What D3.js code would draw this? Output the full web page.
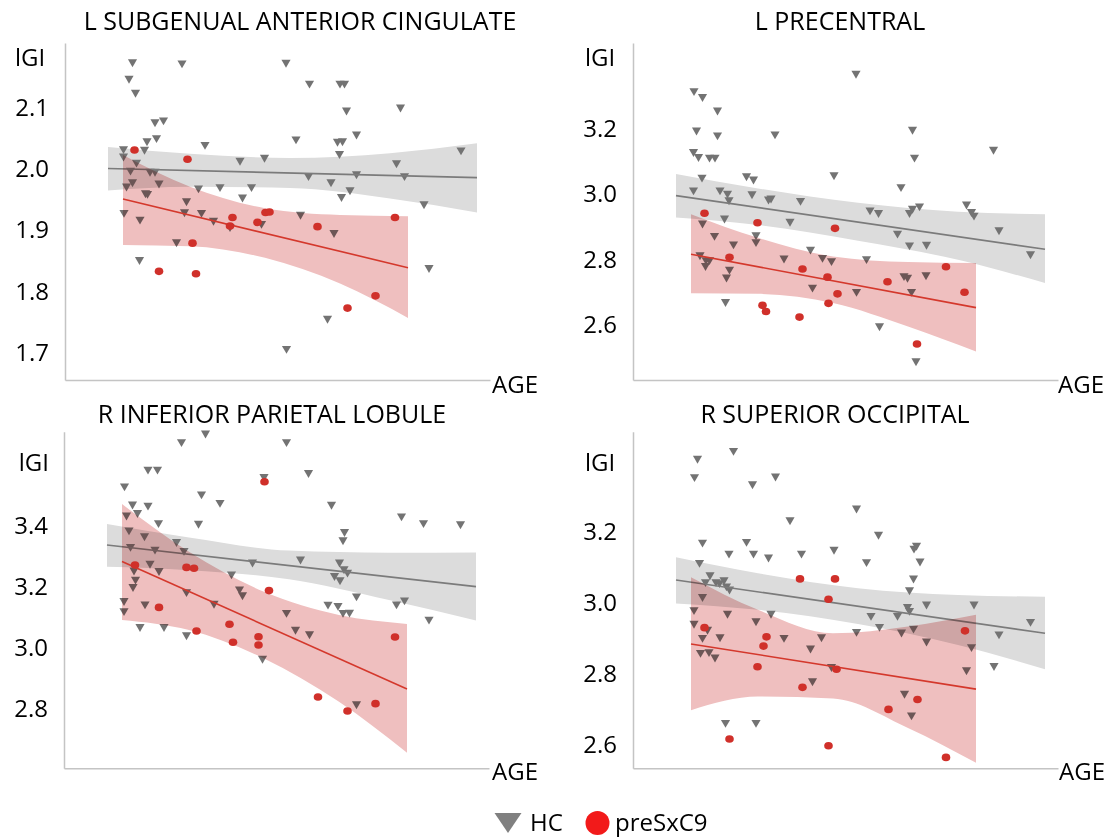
<!DOCTYPE html>
<html>
<head>
<meta charset="utf-8">
<script src="https://cdn.jsdelivr.net/npm/d3@7"></script>
<style>
body { margin: 0; background: #fff; }
text { font-family: "Open Sans", sans-serif; fill: #000; }
</style>
</head>
<body>
<svg id="chart" width="1110" height="837"></svg>
<script>
var titles = ["L SUBGENUAL ANTERIOR CINGULATE", "L PRECENTRAL", "R INFERIOR PARIETAL LOBULE", "R SUPERIOR OCCIPITAL"];
var groups = ["HC", "preSxC9"];

// [age, lGI]
var hc1 = [[23.5,2.175],[33.4,2.173],[54.2,2.174],[22.8,2.148],[24.1,2.125],[28.0,2.077],[29.7,2.080],[28.3,2.051],[26.4,2.046],[25.9,2.032],[38.0,2.040],[56.2,2.049],[21.7,2.033],[21.7,2.021],[24.3,2.011],[23.1,1.998],[27.0,1.996],[28.0,1.996],[23.5,1.979],[22.3,1.972],[28.8,1.977],[45.0,2.014],[49.9,2.019],[36.7,1.969],[41.0,1.971],[47.3,1.971],[26.1,1.961],[26.5,1.960],[34.3,1.948],[45.5,1.954],[21.8,1.929],[25.0,1.918],[33.9,1.930],[37.3,1.929],[39.7,1.916],[43.0,1.906],[49.3,1.911],[32.3,1.881],[24.9,1.852],[54.3,1.707],[58.9,2.140],[65.0,2.140],[65.9,2.140],[66.3,2.096],[77.1,2.101],[64.5,2.045],[65.5,2.046],[68.3,2.057],[64.9,2.025],[89.2,2.031],[76.3,2.010],[58.7,1.989],[68.3,1.992],[77.9,1.989],[63.2,1.979],[67.0,1.966],[65.3,1.955],[81.8,1.943],[57.1,1.926],[63.8,1.896],[82.8,1.839],[62.5,1.756]];
var pre1 = [[23.9,2.031],[34.5,2.016],[43.5,1.921],[43.0,1.907],[48.5,1.913],[50.1,1.929],[50.9,1.930],[35.5,1.879],[28.8,1.833],[36.2,1.829],[60.5,1.906],[76.0,1.921],[72.1,1.793],[66.5,1.773]];

var hc2 = [[22.2,3.316],[23.9,3.298],[26.9,3.257],[22.7,3.196],[26.9,3.181],[38.4,3.184],[22.1,3.130],[23.1,3.115],[25.3,3.113],[26.4,3.113],[23.8,3.052],[32.7,3.056],[34.1,3.046],[50.2,3.059],[22.1,3.013],[27.4,3.013],[28.9,3.003],[29.2,2.983],[33.8,3.001],[37.1,2.985],[37.6,2.988],[43.5,2.981],[23.9,2.912],[28.3,2.927],[41.4,2.917],[26.3,2.874],[30.1,2.848],[34.6,2.876],[34.6,2.855],[23.4,2.815],[24.6,2.800],[25.3,2.800],[24.5,2.782],[40.2,2.805],[45.5,2.832],[47.9,2.807],[49.7,2.797],[29.3,2.771],[28.7,2.747],[45.9,2.716],[28.5,2.672],[54.6,3.369],[65.9,3.198],[66.3,3.113],[82.1,3.137],[63.6,3.023],[57.4,2.952],[59.1,2.944],[65.3,2.944],[65.9,2.957],[67.3,2.964],[76.7,2.970],[77.7,2.947],[78.2,2.936],[83.2,2.891],[62.9,2.881],[65.3,2.845],[68.7,2.847],[89.5,2.818],[56.7,2.803],[64.2,2.751],[64.9,2.746],[68.6,2.754],[54.7,2.703],[65.7,2.703],[59.3,2.598],[66.6,2.491]];
var pre2 = [[24.3,2.942],[34.9,2.913],[50.4,2.896],[29.3,2.808],[43.9,2.772],[48.9,2.747],[50.9,2.696],[35.9,2.661],[36.6,2.642],[43.3,2.625],[49.1,2.667],[60.9,2.733],[72.6,2.779],[76.3,2.701],[66.8,2.543]];

var hc3 = [[38.3,3.703],[33.5,3.675],[54.5,3.675],[26.8,3.585],[28.7,3.585],[22.1,3.530],[37.5,3.504],[41.2,3.476],[50.0,3.561],[23.7,3.471],[26.8,3.467],[24.7,3.443],[22.5,3.435],[28.9,3.410],[36.9,3.408],[23.0,3.386],[26.1,3.367],[32.5,3.348],[23.3,3.332],[28.2,3.323],[34.0,3.319],[47.7,3.281],[27.2,3.277],[24.0,3.255],[29.0,3.253],[43.5,3.242],[24.3,3.225],[23.8,3.201],[45.1,3.193],[45.7,3.174],[34.5,3.184],[22.0,3.155],[22.0,3.122],[26.2,3.144],[40.0,3.146],[54.5,3.116],[25.2,3.070],[30.0,3.070],[34.5,3.043],[56.3,3.061],[49.7,2.966],[58.9,3.574],[63.5,3.470],[77.5,3.432],[81.9,3.410],[89.3,3.406],[66.1,3.381],[65.8,3.354],[57.3,3.291],[65.1,3.281],[66.0,3.259],[64.1,3.237],[65.2,3.223],[66.7,3.248],[68.5,3.170],[62.8,3.143],[64.8,3.139],[65.8,3.116],[67.1,3.117],[76.5,3.144],[78.1,3.157],[83.0,3.094],[59.1,3.046],[68.5,2.817]];
var pre3 = [[50.1,3.544],[24.2,3.272],[34.5,3.264],[36.0,3.261],[29.0,3.133],[51.0,3.188],[36.5,3.056],[43.1,3.078],[43.8,3.019],[48.9,3.037],[48.9,3.010],[76.2,3.036],[60.8,2.840],[66.7,2.794],[72.3,2.818]];

var hc4 = [[22.9,3.406],[22.3,3.354],[30.1,3.428],[33.9,3.334],[38.5,3.356],[41.4,3.233],[23.9,3.170],[32.7,3.172],[29.2,3.139],[34.1,3.139],[37.1,3.128],[43.7,3.139],[50.2,3.150],[23.3,3.113],[25.4,3.078],[24.5,3.059],[26.6,3.059],[27.3,3.056],[28.2,3.064],[28.7,3.047],[29.3,3.038],[23.9,3.017],[22.2,2.980],[28.9,2.970],[37.6,2.970],[22.2,2.942],[34.6,2.949],[24.9,2.925],[23.9,2.902],[27.4,2.904],[40.2,2.902],[47.7,2.904],[45.5,2.872],[23.5,2.860],[25.2,2.862],[26.4,2.847],[49.7,2.820],[45.9,2.780],[28.5,2.663],[34.6,2.663],[54.7,3.266],[59.1,3.192],[56.7,3.115],[66.2,3.153],[66.7,3.161],[67.4,3.117],[66.1,3.069],[65.3,3.036],[64.9,2.989],[68.7,2.996],[78.2,2.996],[57.6,2.964],[62.9,2.964],[65.3,2.978],[89.5,2.947],[59.3,2.933],[54.7,2.919],[63.7,2.917],[66.1,2.928],[83.2,2.912],[68.7,2.892],[77.7,2.876],[76.7,2.811],[82.2,2.823],[64.3,2.745],[65.7,2.684]];
var pre4 = [[43.4,3.067],[50.4,3.067],[49.1,3.010],[24.3,2.930],[36.7,2.904],[36.1,2.878],[34.9,2.820],[50.7,2.813],[43.9,2.762],[29.3,2.617],[49.1,2.598],[76.4,2.921],[66.9,2.728],[61.1,2.700],[72.6,2.565]];

// fitted lines [age, lGI]
var hcFit = [[[18.6,2.001],[92.4,1.986]], [[18.6,2.996],[92.4,2.832]], [[18.6,3.337],[92.4,3.201]], [[18.6,3.064],[92.4,2.914]]];
var preFit = [[[21.6,1.951],[78.6,1.839]], [[21.6,2.817],[78.6,2.654]], [[21.6,3.283],[78.6,2.866]], [[21.6,2.884],[78.6,2.757]]];

// confidence bands read at a few ages
var hcBandAges = [18.6, 35, 55, 75, 92.4];
var hcHi = [[2.036,2.025,2.018,2.026,2.042],[3.062,3.018,2.974,2.947,2.939],[3.406,3.362,3.319,3.312,3.313],[3.128,3.083,3.041,3.022,3.017]];
var hcLo = [[1.965,1.971,1.969,1.952,1.929],[2.929,2.906,2.858,2.800,2.729],[3.266,3.255,3.225,3.157,3.090],[2.998,2.980,2.940,2.881,2.813]];
var preBandAges = [21.6, 35, 50, 65, 78.6];
var preHi = [[2.023,1.971,1.936,1.925,1.923],[2.939,2.867,2.810,2.793,2.790],[3.471,3.315,3.184,3.108,3.079],[3.072,2.980,2.914,2.933,2.966]];
var preLo = [[1.876,1.874,1.855,1.813,1.757],[2.698,2.696,2.668,2.596,2.520],[3.092,3.059,2.966,2.824,2.657],[2.698,2.736,2.731,2.648,2.550]];

var yDomains = [[1.6556,2.2058],[2.433,3.462],[2.6065,3.708],[2.5344,3.481]];
var yTicks = [[1.7,1.8,1.9,2.0,2.1],[2.6,2.8,3.0,3.2],[2.8,3.0,3.2,3.4],[2.6,2.8,3.0,3.2]];
var ageDomain = [10, 95];

var hcData = [hc1, hc2, hc3, hc4];
var preData = [pre1, pre2, pre3, pre4];

// layout
var layout = [
  {x0: 65,  top: 43,    bottom: 380,   titleX: 300, titleY: 30,  lgiX: 15,  lgiAnchor: "start", lgiY: 66,  ageX: 492,  ageY: 393},
  {x0: 633, top: 43,    bottom: 380,   titleX: 840, titleY: 30,  lgiX: 585, lgiAnchor: "start", lgiY: 66,  ageX: 1058, ageY: 393},
  {x0: 64,  top: 431.7, bottom: 768.3, titleX: 272, titleY: 423, lgiX: 49,  lgiAnchor: "end",   lgiY: 471, ageX: 492,  ageY: 780},
  {x0: 633, top: 431.7, bottom: 768.3, titleX: 835, titleY: 423, lgiX: 585, lgiAnchor: "start", lgiY: 471, ageX: 1059, ageY: 780}
];
var axisW = 425;

var svg = d3.select("#chart");
svg.append("rect").attr("width", 1110).attr("height", 837).attr("fill", "#fff");

var triangle = d3.symbol().type(d3.symbolTriangle).size(36);

function draw_panel(i){
  var L = layout[i];
  var x = d3.scaleLinear().domain(ageDomain).range([L.x0, L.x0 + axisW]);
  var y = d3.scaleLinear().domain(yDomains[i]).range([L.bottom, L.top]);
  var g = svg.append("g");

  // axes
  var yAxis = d3.axisLeft(y).tickValues(yTicks[i]).tickFormat(d3.format(".1f")).tickSize(0).tickPadding(16);
  var ya = g.append("g").attr("transform", "translate(" + L.x0 + ",0)").call(yAxis);
  ya.select(".domain").attr("stroke", "#c4c4c4").attr("stroke-width", 1.5);
  ya.selectAll("text").attr("font-size", 24).attr("font-family", "Open Sans").attr("fill", "#000");

  var xAxis = d3.axisBottom(x).tickValues([]).tickSizeOuter(0);
  var xa = g.append("g").attr("transform", "translate(0," + L.bottom + ")").call(xAxis);
  xa.select(".domain").attr("stroke", "#c4c4c4").attr("stroke-width", 1.5);

  // HC band
  var hcBand = hcBandAges.map(function(a, k){ return {a: a, hi: hcHi[i][k], lo: hcLo[i][k]}; });
  var preBand = preBandAges.map(function(a, k){ return {a: a, hi: preHi[i][k], lo: preLo[i][k]}; });
  var area = d3.area()
    .x(function(d){ return x(d.a); })
    .y0(function(d){ return y(d.lo); })
    .y1(function(d){ return y(d.hi); })
    .curve(d3.curveMonotoneX);

  g.append("path").datum(hcBand).attr("d", area)
    .attr("fill", "#dcdcdc").style("mix-blend-mode", "multiply");

  g.selectAll(".hc").data(hcData[i]).enter().append("path")
    .attr("class", "hc")
    .attr("d", triangle)
    .attr("transform", function(d){ return "translate(" + x(d[0]) + "," + y(d[1]) + ") rotate(180)"; })
    .attr("fill", "#737373");

  var line = d3.line().x(function(d){ return x(d[0]); }).y(function(d){ return y(d[1]); });
  g.append("path").datum(hcFit[i]).attr("d", line)
    .attr("stroke", "#7b7b7b").attr("stroke-width", 1.6).attr("fill", "none");

  g.append("path").datum(preBand).attr("d", area)
    .attr("fill", "#efbfbf").style("mix-blend-mode", "multiply");

  g.append("path").datum(preFit[i]).attr("d", line)
    .attr("stroke", "#d4382c").attr("stroke-width", 1.6).attr("fill", "none");

  g.selectAll(".pre").data(preData[i]).enter().append("ellipse")
    .attr("class", "pre")
    .attr("cx", function(d){ return x(d[0]); })
    .attr("cy", function(d){ return y(d[1]); })
    .attr("rx", 4.3).attr("ry", 3.8)
    .attr("fill", "#d0302a");

  // labels
  g.append("text").attr("x", L.titleX).attr("y", L.titleY)
    .attr("text-anchor", "middle").attr("font-size", 25).text(titles[i]);
  g.append("text").attr("x", L.lgiX).attr("y", L.lgiY)
    .attr("text-anchor", L.lgiAnchor).attr("font-size", 24).text("lGI");
  g.append("text").attr("x", L.ageX).attr("y", L.ageY)
    .attr("font-size", 24).text("AGE");
}

for (var i = 0; i < 4; i++) draw_panel(i);

// legend
var leg = svg.append("g");
leg.append("path")
  .attr("d", "M-13.5,0 L13.5,0 L0,20 Z")
  .attr("transform", "translate(508,813)")
  .attr("fill", "#808080");
leg.append("text").attr("x", 530).attr("y", 831).attr("font-size", 24).text(groups[0]);
leg.append("circle").attr("cx", 597.5).attr("cy", 823).attr("r", 12).attr("fill", "#f21a1a");
leg.append("text").attr("x", 615).attr("y", 831).attr("font-size", 24).text(groups[1]);
</script>
</body>
</html>
